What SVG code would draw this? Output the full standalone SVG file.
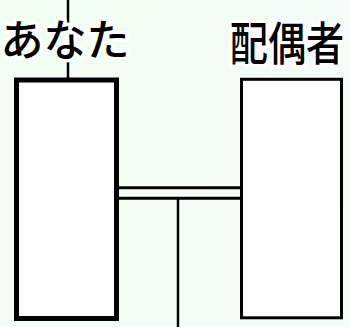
<svg xmlns="http://www.w3.org/2000/svg" width="350" height="327" viewBox="0 0 350 327">
<defs>
<linearGradient id="bg" x1="0" y1="0" x2="1" y2="1">
<stop offset="0" stop-color="#f2fdf4"/>
<stop offset="1" stop-color="#f7fdf7"/>
</linearGradient>
</defs>
<style>
.lbl{font-family:"Noto Sans CJK JP","Noto Sans CJK SC",sans-serif;font-weight:500;fill:#000;stroke:#fff;stroke-width:7;stroke-linejoin:round;paint-order:stroke;text-anchor:middle}
.ln{stroke:#000;fill:none}
.box{fill:#fff;stroke:#000}
</style>
<rect width="350" height="327" fill="url(#bg)"/>
<g id="connectors">
<line class="ln" x1="68" y1="0" x2="68" y2="80" stroke-width="2.5"/>
<line class="ln" x1="118" y1="187.8" x2="242" y2="187.8" stroke-width="3"/>
<line class="ln" x1="118" y1="198.3" x2="242" y2="198.3" stroke-width="3"/>
<line class="ln" x1="178" y1="198" x2="178" y2="327" stroke-width="2.5"/>
</g>
<g id="you">
<rect class="box" x="16.5" y="80" width="100" height="238.5" stroke-width="5"/>
<text class="lbl" x="65" y="56" font-size="43">あなた</text>
</g>
<g id="spouse">
<rect class="box" x="241.5" y="79.3" width="100" height="238.5" stroke-width="3"/>
<text class="lbl" transform="translate(287,60) scale(0.83,1)" x="0" y="0" font-size="46">配偶者</text>
</g>
</svg>
